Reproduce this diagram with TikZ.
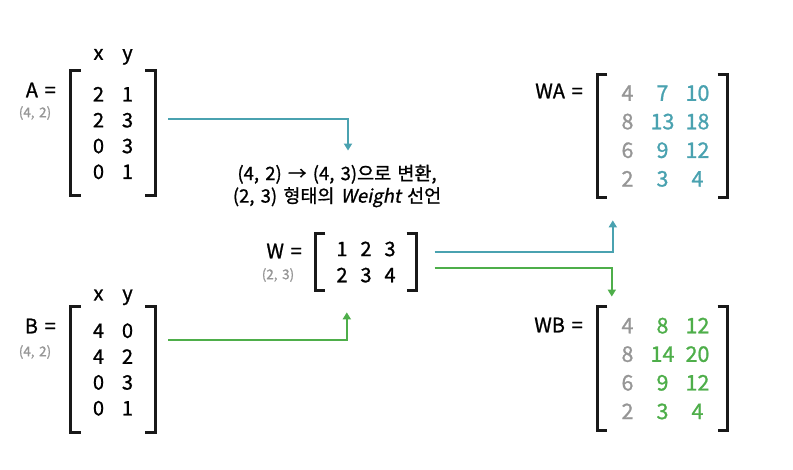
\documentclass[tikz,border=0pt]{standalone}
\usepackage{fontspec}
\setmainfont{Noto Sans CJK KR}[AutoFakeSlant=0.2, FakeBold=1, WordSpace=1.5]
\usepackage{tikz}
\usepackage{xcolor}
\usetikzlibrary{matrix,positioning,arrows.meta,calc}
\definecolor{tealc}{RGB}{74,162,176}
\definecolor{greenc}{RGB}{78,174,74}
\definecolor{grayc}{RGB}{150,150,150}

\begin{document}
\begin{tikzpicture}[x=1pt, y=-1pt,
  smat/.style={matrix of nodes, font=\fontsize{20}{22}\selectfont,
               nodes={minimum width=29pt, minimum height=25.8pt, inner sep=0pt},
               inner xsep=13pt, inner ysep=11pt},
  wmat/.style={matrix of nodes, font=\fontsize{20}{22}\selectfont,
               nodes={minimum width=24pt, minimum height=26pt, inner sep=0pt},
               inner xsep=14.5pt, inner ysep=2pt},
  rmat/.style={matrix of nodes, font=\fontsize{21.5}{24}\selectfont,
               nodes={minimum width=35pt, minimum height=28.5pt, inner sep=0pt},
               column 1/.style={nodes={text=grayc}},
               inner xsep=12.5pt, inner ysep=4.5pt},
  lbl/.style={font=\fontsize{20}{22}\selectfont, anchor=east, inner sep=0pt},
  dim/.style={font=\fontsize{13.5}{15}\selectfont, text=grayc, inner sep=0pt},
  hdr/.style={font=\fontsize{20}{22}\selectfont, anchor=base, inner sep=0pt},
  note/.style={font=\fontsize{18.5}{22.5}\selectfont, align=center, inner sep=0pt},
  brk/.style={line width=3pt, draw=black!90},
  tarr/.style={draw=tealc, line width=2pt, -{Triangle[width=8pt,length=7pt]}},
  garr/.style={draw=greenc, line width=2pt, -{Triangle[width=8pt,length=7pt]}}
]
\useasboundingbox (0,0) rectangle (793,469);

\matrix[smat] (A) at (113,133) {2 & 1\\ 2 & 3\\ 0 & 3\\ 0 & 1\\};
\node[hdr] (Ax) at ([yshift=34.3]A-1-1.center) {x};
\node[hdr] (Ay) at ([yshift=34.3]A-1-2.center) {y};
\node[lbl] (Alab) at (56,90) {A =};
\node[dim] (Adim) at (35,113) {(4, 2)};

\matrix[smat] (B) at (113,369.5) {4 & 0\\ 4 & 2\\ 0 & 3\\ 0 & 1\\};
\node[hdr] (Bx) at ([yshift=30.3]B-1-1.center) {x};
\node[hdr] (By) at ([yshift=30.3]B-1-2.center) {y};
\node[lbl] (Blab) at (56,326) {B =};
\node[dim] (Bdim) at (35,352) {(4, 2)};

\matrix[wmat] (W) at (366,262) {1 & 2 & 3\\ 2 & 3 & 4\\};
\node[lbl] (Wlab) at (302,251) {W =};
\node[dim] (Wdim) at (278,275) {(2, 3)};

\node[note] (msg) at (337,186) {(4, 2) → (4, 3)으로 변환,\\(2, 3) 형태의 \textit{Weight} 선언};

\matrix[rmat, nodes={text=tealc}] (WA) at (662.5,136)
  {4 & 7 & 10\\ 8 & 13 & 18\\ 6 & 9 & 12\\ 2 & 3 & 4\\};
\node[lbl] (WAlab) at (583,91) {WA =};

\matrix[rmat, nodes={text=greenc}] (WB) at (662.5,368.5)
  {4 & 8 & 12\\ 8 & 14 & 20\\ 6 & 9 & 12\\ 2 & 3 & 4\\};
\node[lbl] (WBlab) at (583,325) {WB =};

\draw[brk] ([xshift=10]A.north west) -- (A.north west) -- (A.south west) -- ([xshift=10]A.south west);
\draw[brk] ([xshift=-10]A.north east) -- (A.north east) -- (A.south east) -- ([xshift=-10]A.south east);
\draw[brk] ([xshift=10]B.north west) -- (B.north west) -- (B.south west) -- ([xshift=10]B.south west);
\draw[brk] ([xshift=-10]B.north east) -- (B.north east) -- (B.south east) -- ([xshift=-10]B.south east);
\draw[brk] ([xshift=10]W.north west) -- (W.north west) -- (W.south west) -- ([xshift=10]W.south west);
\draw[brk] ([xshift=-10]W.north east) -- (W.north east) -- (W.south east) -- ([xshift=-10]W.south east);
\draw[brk] ([xshift=10]WA.north west) -- (WA.north west) -- (WA.south west) -- ([xshift=10]WA.south west);
\draw[brk] ([xshift=-10]WA.north east) -- (WA.north east) -- (WA.south east) -- ([xshift=-10]WA.south east);
\draw[brk] ([xshift=10]WB.north west) -- (WB.north west) -- (WB.south west) -- ([xshift=10]WB.south west);
\draw[brk] ([xshift=-10]WB.north east) -- (WB.north east) -- (WB.south east) -- ([xshift=-10]WB.south east);

\draw[tarr] ([xshift=13,yshift=-48.5]A.north east) -| ([xshift=11,yshift=14]msg.north);
\draw[garr] ([xshift=13,yshift=-33]B.north east) -| ([xshift=31.5,yshift=-22]W.south west);
\draw[tarr] ([xshift=18,yshift=10]W.east) -| ([xshift=15.5,yshift=-22.5]WA.south west);
\draw[garr] ([xshift=18,yshift=-6]W.east) -| ([xshift=14.5,yshift=10]WB.north west);
\end{tikzpicture}
\end{document}
